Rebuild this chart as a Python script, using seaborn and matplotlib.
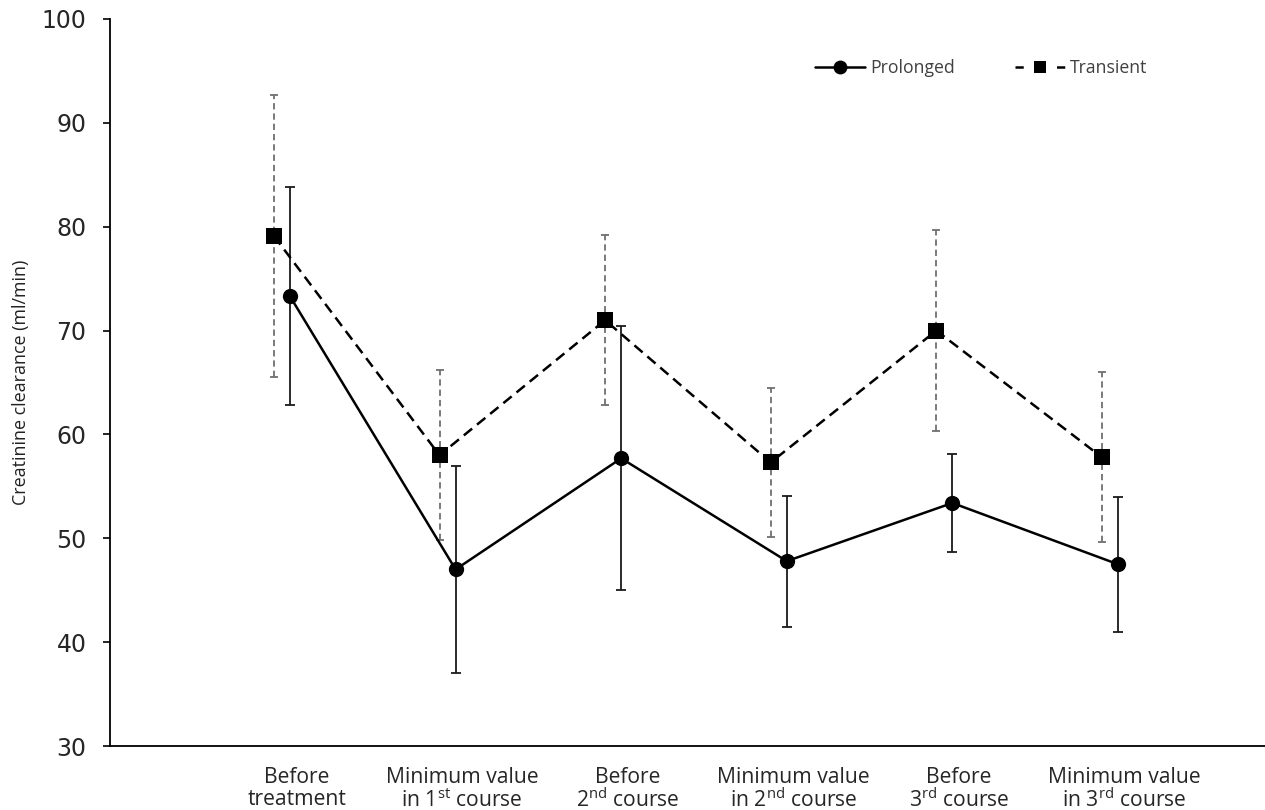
import matplotlib
matplotlib.use("Agg")
import matplotlib.pyplot as plt
import seaborn as sns
import pandas as pd
from matplotlib.lines import Line2D

# ---- data ----
categories = [
    "Before\ntreatment",
    "Minimum value\nin 1$^{\\mathrm{st}}$ course",
    "Before\n2$^{\\mathrm{nd}}$ course",
    "Minimum value\nin 2$^{\\mathrm{nd}}$ course",
    "Before\n3$^{\\mathrm{rd}}$ course",
    "Minimum value\nin 3$^{\\mathrm{rd}}$ course",
]
prolonged_mean = [73.3, 47.0, 57.7, 47.8, 53.4, 47.5]
prolonged_err = [10.5, 10.0, 12.7, 6.3, 4.7, 6.5]
transient_mean = [79.1, 58.0, 71.0, 57.3, 70.0, 57.8]
transient_err = [13.55, 8.2, 8.2, 7.2, 9.7, 8.2]
y_ticks = [30, 40, 50, 60, 70, 80, 90, 100]
y_label = "Creatinine clearance (ml/min)"

sns.set_style("ticks")
plt.rcParams["font.family"] = ["Open Sans", "DejaVu Sans"]
plt.rcParams["mathtext.fontset"] = "custom"
plt.rcParams["mathtext.rm"] = "Open Sans"
plt.rcParams["mathtext.it"] = "Open Sans:italic"
plt.rcParams["mathtext.bf"] = "Open Sans:bold"

TR_OFF = -0.097
idx = list(range(len(categories)))
x_pro = [i for i in idx]
x_tr = [i + TR_OFF for i in idx]

df = pd.DataFrame({
    "x": x_pro + x_tr,
    "value": prolonged_mean + transient_mean,
    "group": ["Prolonged"] * len(idx) + ["Transient"] * len(idx),
})

fig = plt.figure(figsize=(12.65, 8.1), dpi=100)
ax = fig.add_axes([110 / 1265, 1 - 746 / 810, 1 - 110 / 1265, (746 - 19) / 810])

LW = 1.8
# error bars (behind)
eb1 = ax.errorbar(x_pro, prolonged_mean, yerr=prolonged_err, fmt="none",
                  ecolor="#1a1a1a", elinewidth=1.3, capsize=3.3, capthick=1.3, zorder=1)
eb2 = ax.errorbar(x_tr, transient_mean, yerr=transient_err, fmt="none",
                  ecolor="#707070", elinewidth=1.3, capsize=2.6, capthick=1.3, zorder=1)
eb2[2][0].set_linestyle((0, (3.5, 2.2)))

sns.lineplot(
    data=df, x="x", y="value", hue="group", style="group",
    markers={"Prolonged": "o", "Transient": "s"},
    dashes={"Prolonged": "", "Transient": (4.3, 2.5)},
    palette={"Prolonged": "black", "Transient": "black"},
    linewidth=LW, markersize=11, markeredgewidth=0,
    legend=False, ax=ax, zorder=3,
)

ax.set_xlim(-1.087, 5.888)
ax.set_ylim(30, 100)
ax.set_yticks(y_ticks)
ax.set_yticklabels([str(v) for v in y_ticks], fontfamily="DejaVu Sans", fontsize=17)
ax.set_xticks([i + 0.04 for i in idx])
ax.set_xticklabels(categories, fontsize=15.2, linespacing=1.05)
ax.tick_params(axis="x", length=0, pad=15)
ax.tick_params(axis="y", length=5, width=1.2, direction="out", pad=12, color="black")
ax.set_xlabel("")
ax.set_ylabel(y_label, fontsize=12.9, color="#222222")
ax.yaxis.set_label_coords(-0.069, 0.5)

for s in ["top", "right"]:
    ax.spines[s].set_visible(False)
for s in ["left", "bottom"]:
    ax.spines[s].set_color("black")
    ax.spines[s].set_linewidth(1.3)

handles = [
    Line2D([0], [0], color="black", lw=LW, marker="o", markersize=10,
           markeredgewidth=0, label="Prolonged"),
    Line2D([0], [0], color="black", lw=LW, marker="s", markersize=9,
           markeredgewidth=0, linestyle=(0, (3.3, 13.3)), label="Transient"),
]
leg = ax.legend(handles=handles, ncol=2, loc="center left",
                bbox_to_anchor=(815 / 1265, 1 - 68 / 810), bbox_transform=fig.transFigure,
                frameon=False, fontsize=12.7, handlelength=2.83, handletextpad=0.3,
                columnspacing=3.4, borderpad=0, borderaxespad=0)
for t in leg.get_texts():
    t.set_color("#404040")

fig.savefig("out.png", dpi=100)
